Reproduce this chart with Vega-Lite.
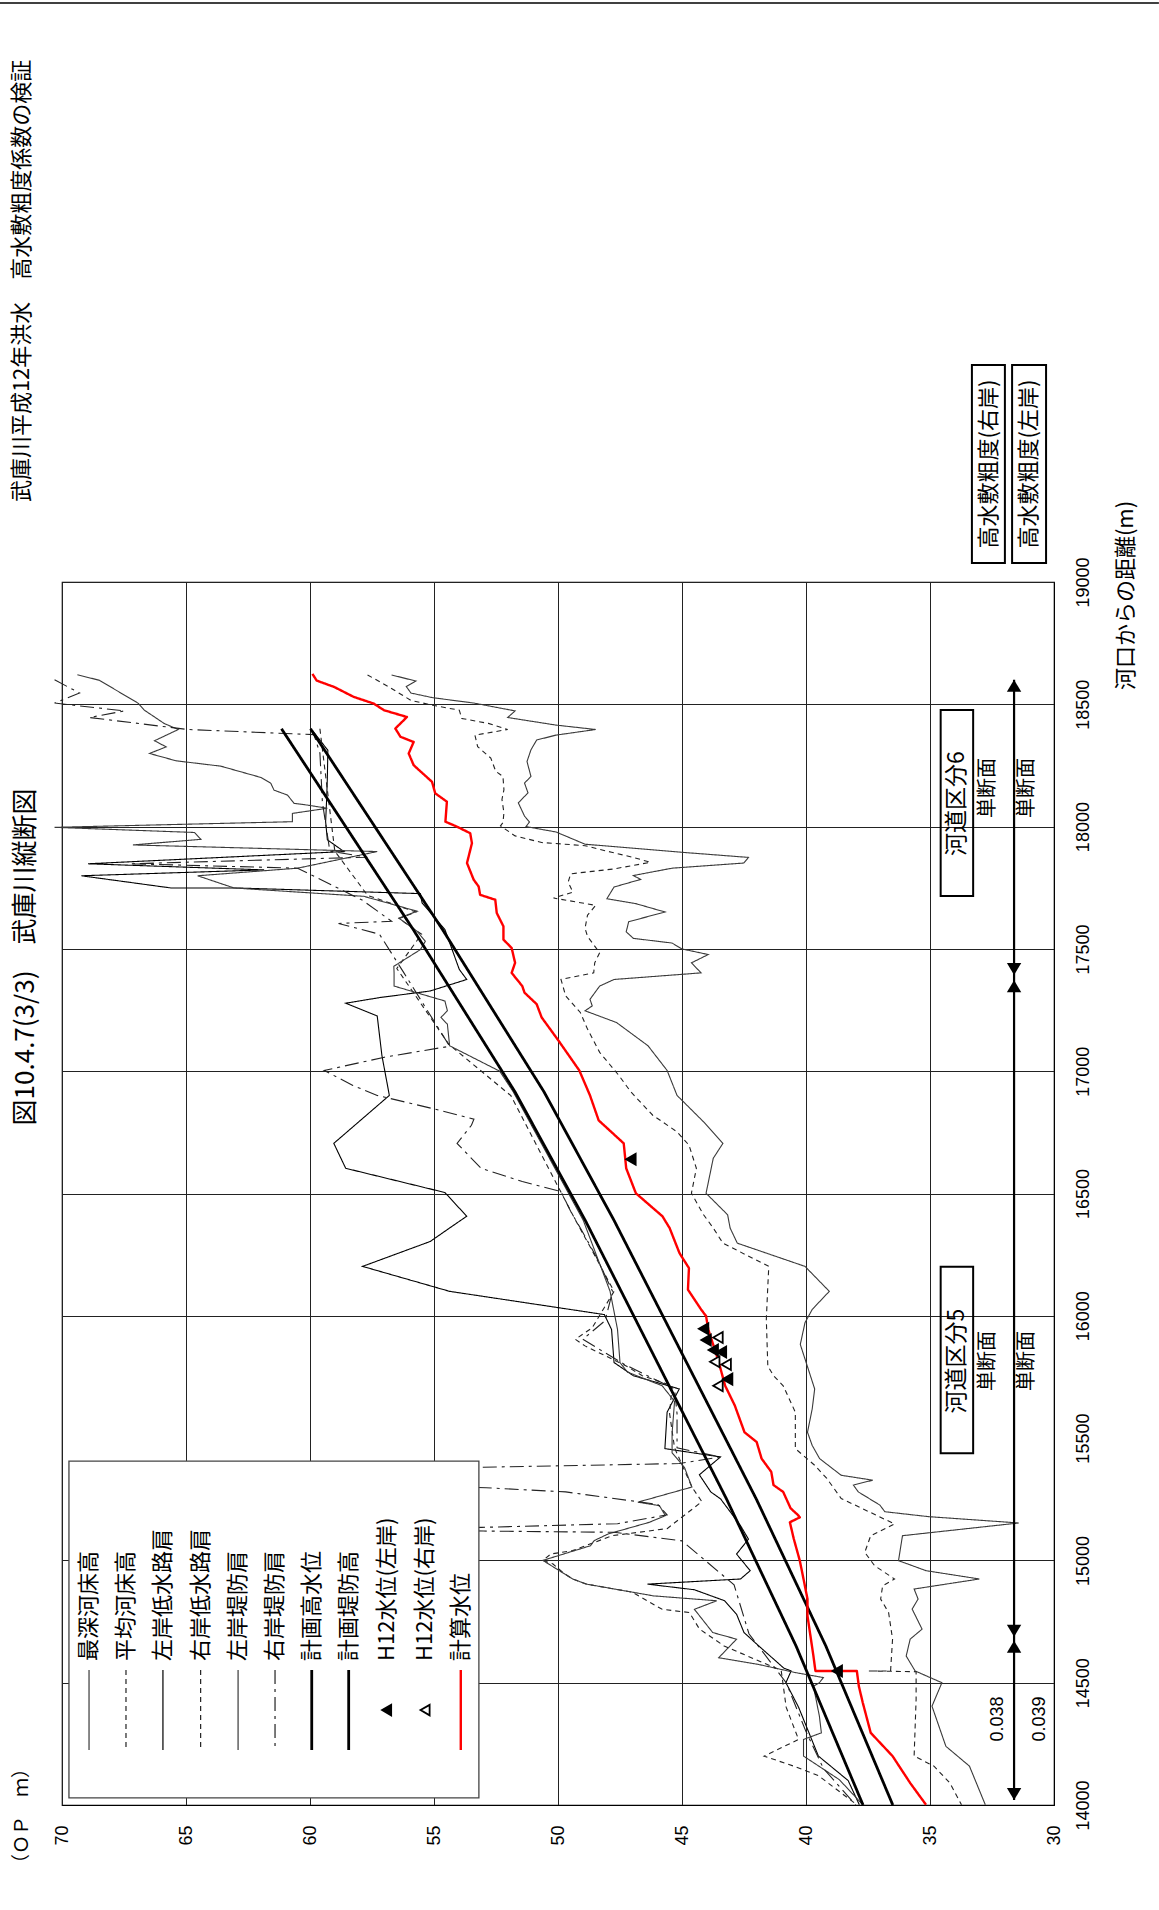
{
  "$schema": "https://vega.github.io/schema/vega-lite/v6.json",
  "width": 992,
  "height": 1223,
  "autosize": {"type": "none"},
  "padding": {"left": 62, "top": 582, "right": 105, "bottom": 105},
  "background": "white",
  "config": {
    "view": {"stroke": "#000", "strokeWidth": 1.2},
    "font": "Liberation Sans",
    "axis": {"labelFont": "Liberation Sans", "labelFontSize": 18, "labelColor": "#000", "gridColor": "#222", "gridWidth": 1, "gridOpacity": 1, "domainColor": "#000", "ticks": false, "tickSize": 0, "labelOverlap": false, "labelFlush": false, "labelPadding": 20, "format": "d"}
  },
  "datasets": {
    "lines": [
      {"s":"最深河床高","d":18620,"e":56.71},{"s":"最深河床高","d":18595,"e":55.73},{"s":"最深河床高","d":18573,"e":56.12},{"s":"最深河床高","d":18546,"e":55.93},{"s":"最深河床高","d":18527,"e":55.05},{"s":"最深河床高","d":18505,"e":53.39},{"s":"最深河床高","d":18473,"e":51.73},{"s":"最深河床高","d":18446,"e":52.03},{"s":"最深河床高","d":18415,"e":50.08},{"s":"最深河床高","d":18397,"e":48.48},{"s":"最深河床高","d":18374,"e":50.08},{"s":"最深河床高","d":18354,"e":50.86},{"s":"最深河床高","d":18314,"e":51.09},{"s":"最深河床高","d":18266,"e":51.25},{"s":"最深河床高","d":18205,"e":51.09},{"s":"最深河床高","d":18178,"e":51.35},{"s":"最深河床高","d":18138,"e":51.21},{"s":"最深河床高","d":18097,"e":51.6},{"s":"最深河床高","d":18043,"e":51.35},{"s":"最深河床高","d":18019,"e":51.15},{"s":"最深河床高","d":18000,"e":51.29},{"s":"最深河床高","d":17978,"e":50.08},{"s":"最深河床高","d":17928,"e":48.91},{"s":"最深河床高","d":17895,"e":45.01},{"s":"最深河床高","d":17874,"e":42.32},{"s":"最深河床高","d":17851,"e":42.51},{"s":"最深河床高","d":17830,"e":45.4},{"s":"最深河床高","d":17800,"e":46.96},{"s":"最深河床高","d":17784,"e":46.67},{"s":"最深河床高","d":17753,"e":47.74},{"s":"最深河床高","d":17705,"e":48.03},{"s":"最深河床高","d":17685,"e":46.86},{"s":"最深河床高","d":17651,"e":45.69},{"s":"最深河床高","d":17611,"e":47.15},{"s":"最深河床高","d":17570,"e":47.25},{"s":"最深河床高","d":17543,"e":46.96},{"s":"最深河床高","d":17524,"e":45.4},{"s":"最深河床高","d":17500,"e":45.01},{"s":"最深河床高","d":17477,"e":43.94},{"s":"最深河床高","d":17443,"e":44.62},{"s":"最深河床高","d":17402,"e":44.23},{"s":"最深河床高","d":17375,"e":47.74},{"s":"最深河床高","d":17348,"e":48.32},{"s":"最深河床高","d":17294,"e":48.71},{"s":"最深河床高","d":17267,"e":48.62},{"s":"最深河床高","d":17247,"e":48.91},{"s":"最深河床高","d":17199,"e":47.64},{"s":"最深河床高","d":17104,"e":46.37},{"s":"最深河床高","d":17003,"e":45.6},{"s":"最深河床高","d":16901,"e":45.2},{"s":"最深河床高","d":16793,"e":44.13},{"s":"最深河床高","d":16705,"e":43.35},{"s":"最深河床高","d":16644,"e":43.74},{"s":"最深河床高","d":16501,"e":44.03},{"s":"最深河床高","d":16413,"e":43.16},{"s":"最深河床高","d":16359,"e":43.06},{"s":"最深河床高","d":16297,"e":42.77},{"s":"最深河床高","d":16202,"e":40.04},{"s":"最深河床高","d":16100,"e":39.06},{"s":"最深河床高","d":16026,"e":39.75},{"s":"最深河床高","d":15972,"e":40.04},{"s":"最深河床高","d":15883,"e":40.23},{"s":"最深河床高","d":15701,"e":39.65},{"s":"最深河床高","d":15619,"e":39.75},{"s":"最深河床高","d":15524,"e":39.94},{"s":"最深河床高","d":15470,"e":39.75},{"s":"最深河床高","d":15416,"e":39.45},{"s":"最深河床高","d":15348,"e":38.58},{"s":"最深河床高","d":15328,"e":37.31},{"s":"最深河床高","d":15308,"e":38.09},{"s":"最深河床高","d":15280,"e":37.89},{"s":"最深河床高","d":15226,"e":37.02},{"s":"最深河床高","d":15199,"e":36.82},{"s":"最深河床高","d":15179,"e":35.07},{"s":"最深河床高","d":15153,"e":31.42},{"s":"最深河床高","d":15101,"e":36.11},{"s":"最深河床高","d":14999,"e":36.27},{"s":"最深河床高","d":14958,"e":35.16},{"s":"最深河床高","d":14924,"e":33.01},{"s":"最深河床高","d":14883,"e":35.64},{"s":"最深河床高","d":14842,"e":35.48},{"s":"最深河床高","d":14801,"e":35.72},{"s":"最深河床高","d":14719,"e":35.32},{"s":"最深河床高","d":14678,"e":35.8},{"s":"最深河床高","d":14609,"e":35.96},{"s":"最深河床高","d":14548,"e":35.6},{"s":"最深河床高","d":14500,"e":34.52},{"s":"最深河床高","d":14404,"e":34.92},{"s":"最深河床高","d":14240,"e":34.36},{"s":"最深河床高","d":14159,"e":33.41},{"s":"最深河床高","d":14001,"e":32.77},

      {"s":"平均河床高","d":18620,"e":57.68},{"s":"平均河床高","d":18570,"e":56.8},{"s":"平均河床高","d":18516,"e":55.93},{"s":"平均河床高","d":18496,"e":55.05},{"s":"平均河床高","d":18476,"e":53.98},{"s":"平均河床高","d":18442,"e":53.88},{"s":"平均河床高","d":18422,"e":52.81},{"s":"平均河床高","d":18397,"e":52.03},{"s":"平均河床高","d":18374,"e":53.35},{"s":"平均河床高","d":18327,"e":53.24},{"s":"平均河床高","d":18280,"e":52.71},{"s":"平均河床高","d":18226,"e":52.51},{"s":"平均河床高","d":18205,"e":52.22},{"s":"平均河床高","d":18151,"e":52.18},{"s":"平均河床高","d":18111,"e":52.26},{"s":"平均河床高","d":18057,"e":52.18},{"s":"平均河床高","d":18016,"e":52.22},{"s":"平均河床高","d":18003,"e":52.32},{"s":"平均河床高","d":17962,"e":51.73},{"s":"平均河床高","d":17935,"e":50.66},{"s":"平均河床高","d":17922,"e":48.91},{"s":"平均河床高","d":17895,"e":47.84},{"s":"平均河床高","d":17874,"e":46.96},{"s":"平均河床高","d":17854,"e":46.28},{"s":"平均河床高","d":17827,"e":47.74},{"s":"平均河床高","d":17807,"e":49.49},{"s":"平均河床高","d":17773,"e":49.59},{"s":"平均河床高","d":17732,"e":49.4},{"s":"平均河床高","d":17708,"e":50.18},{"s":"平均河床高","d":17678,"e":48.48},{"s":"平均河床高","d":17638,"e":48.81},{"s":"平均河床高","d":17584,"e":48.91},{"s":"平均河床高","d":17551,"e":48.81},{"s":"平均河床高","d":17484,"e":48.32},{"s":"平均河床高","d":17443,"e":48.52},{"s":"平均河床高","d":17402,"e":48.56},{"s":"平均河床高","d":17375,"e":49.88},{"s":"平均河床高","d":17308,"e":49.69},{"s":"平均河床高","d":17240,"e":49.1},{"s":"平均河床高","d":17172,"e":48.81},{"s":"平均河床高","d":17077,"e":48.32},{"s":"平均河床高","d":16982,"e":47.54},{"s":"平均河床高","d":16915,"e":47.06},{"s":"平均河床高","d":16820,"e":46.18},{"s":"平均河床高","d":16752,"e":45.2},{"s":"平均河床高","d":16698,"e":44.72},{"s":"平均河床高","d":16603,"e":44.42},{"s":"平均河床高","d":16501,"e":44.62},{"s":"平均河床高","d":16413,"e":44.13},{"s":"平均河床高","d":16359,"e":43.74},{"s":"平均河床高","d":16297,"e":43.35},{"s":"平均河床高","d":16202,"e":41.5},{"s":"平均河床高","d":16121,"e":41.54},{"s":"平均河床高","d":15985,"e":41.6},{"s":"平均河床高","d":15795,"e":41.54},{"s":"平均河床高","d":15755,"e":41.31},{"s":"平均河床高","d":15714,"e":40.92},{"s":"平均河床高","d":15606,"e":40.43},{"s":"平均河床高","d":15457,"e":40.43},{"s":"平均河床高","d":15389,"e":39.65},{"s":"平均河床高","d":15335,"e":39.16},{"s":"平均河床高","d":15253,"e":38.58},{"s":"平均河床高","d":15149,"e":36.43},{"s":"平均河床高","d":15101,"e":37.39},{"s":"平均河床高","d":15033,"e":37.63},{"s":"平均河床高","d":14978,"e":37.23},{"s":"平均河床高","d":14924,"e":36.43},{"s":"平均河床高","d":14896,"e":36.91},{"s":"平均河床高","d":14842,"e":36.99},{"s":"平均河床高","d":14787,"e":36.67},{"s":"平均河床高","d":14678,"e":36.51},{"s":"平均河床高","d":14548,"e":36.59},{"s":"平均河床高","d":14548,"e":37.47},{"s":"平均河床高","d":14545,"e":35.56},{"s":"平均河床高","d":14432,"e":35.56},{"s":"平均河床高","d":14200,"e":35.64},{"s":"平均河床高","d":14159,"e":34.84},{"s":"平均河床高","d":14090,"e":34.2},{"s":"平均河床高","d":14001,"e":33.73},

      {"s":"左岸低水路肩","d":18394,"e":59.91},{"s":"左岸低水路肩","d":18312,"e":59.28},{"s":"左岸低水路肩","d":18200,"e":59.3},{"s":"左岸低水路肩","d":18109,"e":59.33},{"s":"左岸低水路肩","d":18020,"e":59.37},{"s":"左岸低水路肩","d":17946,"e":59.3},{"s":"左岸低水路肩","d":17898,"e":58.63},{"s":"左岸低水路肩","d":17848,"e":68.95},{"s":"左岸低水路肩","d":17823,"e":61.85},{"s":"左岸低水路肩","d":17799,"e":69.22},{"s":"左岸低水路肩","d":17749,"e":65.6},{"s":"左岸低水路肩","d":17749,"e":62.92},{"s":"左岸低水路肩","d":17726,"e":55.55},{"s":"左岸低水路肩","d":17688,"e":55.48},{"s":"左岸低水路肩","d":17579,"e":54.56},{"s":"左岸低水路肩","d":17416,"e":53.98},{"s":"左岸低水路肩","d":17375,"e":53.68},{"s":"左岸低水路肩","d":17328,"e":55.15},{"s":"左岸低水路肩","d":17301,"e":57.19},{"s":"左岸低水路肩","d":17278,"e":58.56},{"s":"左岸低水路肩","d":17226,"e":57.29},{"s":"左岸低水路肩","d":17064,"e":57.1},{"s":"左岸低水路肩","d":16901,"e":56.8},{"s":"左岸低水路肩","d":16705,"e":59.04},{"s":"左岸低水路肩","d":16603,"e":58.56},{"s":"左岸低水路肩","d":16504,"e":54.56},{"s":"左岸低水路肩","d":16407,"e":53.68},{"s":"左岸低水路肩","d":16359,"e":54.37},{"s":"左岸低水路肩","d":16304,"e":55.15},{"s":"左岸低水路肩","d":16202,"e":57.88},{"s":"左岸低水路肩","d":16100,"e":54.37},{"s":"左岸低水路肩","d":16005,"e":48.13},{"s":"左岸低水路肩","d":15944,"e":47.84},{"s":"左岸低水路肩","d":15809,"e":47.74},{"s":"左岸低水路肩","d":15755,"e":46.96},{"s":"左岸低水路肩","d":15701,"e":45.11},{"s":"左岸低水路肩","d":15606,"e":45.6},{"s":"左岸低水路肩","d":15457,"e":45.69},{"s":"左岸低水路肩","d":15423,"e":43.45},{"s":"左岸低水路肩","d":15350,"e":44.3},{"s":"左岸低水路肩","d":15280,"e":43.84},{"s":"左岸低水路肩","d":15251,"e":43.44},{"s":"左岸低水路肩","d":15142,"e":42.64},{"s":"左岸低水路肩","d":15087,"e":42.32},{"s":"左岸低水路肩","d":15026,"e":42.8},{"s":"左岸低水路肩","d":14958,"e":42.25},{"s":"左岸低水路肩","d":14924,"e":42.64},{"s":"左岸低水路肩","d":14903,"e":46.39},{"s":"左岸低水路肩","d":14880,"e":44.5},{"s":"左岸低水路肩","d":14835,"e":43.28},{"s":"左岸低水路肩","d":14780,"e":42.8},{"s":"左岸低水路肩","d":14705,"e":42.5},{"s":"左岸低水路肩","d":14650,"e":41.9},{"s":"左岸低水路肩","d":14560,"e":40.9},{"s":"左岸低水路肩","d":14548,"e":40.6},{"s":"左岸低水路肩","d":14500,"e":40.81},{"s":"左岸低水路肩","d":14400,"e":40.3},{"s":"左岸低水路肩","d":14300,"e":39.9},{"s":"左岸低水路肩","d":14200,"e":39.5},{"s":"左岸低水路肩","d":14100,"e":38.3},{"s":"左岸低水路肩","d":14001,"e":37.85},

      {"s":"右岸低水路肩","d":18400,"e":59.6},{"s":"右岸低水路肩","d":17900,"e":59.0},{"s":"右岸低水路肩","d":17719,"e":57.68},{"s":"右岸低水路肩","d":17651,"e":55.73},{"s":"右岸低水路肩","d":17624,"e":56.41},{"s":"右岸低水路肩","d":17560,"e":55.5},{"s":"右岸低水路肩","d":17420,"e":56.5},{"s":"右岸低水路肩","d":17110,"e":54.4},{"s":"右岸低水路肩","d":16900,"e":51.9},{"s":"右岸低水路肩","d":16392,"e":49.3},{"s":"右岸低水路肩","d":16283,"e":48.71},{"s":"右岸低水路肩","d":16100,"e":47.74},{"s":"右岸低水路肩","d":15951,"e":48.62},{"s":"右岸低水路肩","d":15904,"e":49.3},{"s":"右岸低水路肩","d":15877,"e":48.91},{"s":"右岸低水路肩","d":15795,"e":47.25},{"s":"右岸低水路肩","d":15755,"e":46.6},{"s":"右岸低水路肩","d":15714,"e":45.4},{"s":"右岸低水路肩","d":15600,"e":45.5},{"s":"右岸低水路肩","d":15460,"e":45.3},{"s":"右岸低水路肩","d":15300,"e":44.6},{"s":"右岸低水路肩","d":15240,"e":44.2},{"s":"右岸低水路肩","d":15130,"e":45.6},{"s":"右岸低水路肩","d":15101,"e":47.82},{"s":"右岸低水路肩","d":15040,"e":49.41},{"s":"右岸低水路肩","d":15026,"e":50.29},{"s":"右岸低水路肩","d":15000,"e":50.61},{"s":"右岸低水路肩","d":14985,"e":50.2},{"s":"右岸低水路肩","d":14950,"e":49.8},{"s":"右岸低水路肩","d":14924,"e":49.41},{"s":"右岸低水路肩","d":14903,"e":48.85},{"s":"右岸低水路肩","d":14870,"e":47.0},{"s":"右岸低水路肩","d":14800,"e":45.8},{"s":"右岸低水路肩","d":14787,"e":44.7},{"s":"右岸低水路肩","d":14720,"e":44.3},{"s":"右岸低水路肩","d":14650,"e":43.3},{"s":"右岸低水路肩","d":14550,"e":41.0},{"s":"右岸低水路肩","d":14400,"e":40.8},{"s":"右岸低水路肩","d":14268,"e":40.3},{"s":"右岸低水路肩","d":14200,"e":41.69},{"s":"右岸低水路肩","d":14159,"e":40.5},{"s":"右岸低水路肩","d":14120,"e":39.5},{"s":"右岸低水路肩","d":14001,"e":37.95},

      {"s":"左岸堤防肩","d":18621,"e":69.38},{"s":"左岸堤防肩","d":18598,"e":68.49},{"s":"左岸堤防肩","d":18505,"e":66.94},{"s":"左岸堤防肩","d":18476,"e":66.68},{"s":"左岸堤防肩","d":18421,"e":65.87},{"s":"左岸堤防肩","d":18397,"e":65.31},{"s":"左岸堤防肩","d":18351,"e":66.27},{"s":"左岸堤防肩","d":18326,"e":65.8},{"s":"左岸堤防肩","d":18299,"e":66.47},{"s":"左岸堤防肩","d":18269,"e":65.4},{"s":"左岸堤防肩","d":18247,"e":63.59},{"s":"左岸堤防肩","d":18224,"e":62.79},{"s":"左岸堤防肩","d":18201,"e":61.98},{"s":"左岸堤防肩","d":18177,"e":61.58},{"s":"左岸堤防肩","d":18149,"e":61.45},{"s":"左岸堤防肩","d":18129,"e":60.91},{"s":"左岸堤防肩","d":18095,"e":60.64},{"s":"左岸堤防肩","d":18088,"e":60.11},{"s":"左岸堤防肩","d":18075,"e":59.3},{"s":"左岸堤防肩","d":18054,"e":60.71},{"s":"左岸堤防肩","d":18020,"e":60.71},{"s":"左岸堤防肩","d":17997,"e":70.3},{"s":"左岸堤防肩","d":17976,"e":64.66},{"s":"左岸堤防肩","d":17948,"e":64.4},{"s":"左岸堤防肩","d":17925,"e":67.14},{"s":"左岸堤防肩","d":17898,"e":57.29},{"s":"左岸堤防肩","d":17830,"e":60.5},{"s":"左岸堤防肩","d":17799,"e":64.53},{"s":"左岸堤防肩","d":17749,"e":63.06},{"s":"左岸堤防肩","d":17715,"e":57.83},{"s":"左岸堤防肩","d":17654,"e":55.68},{"s":"左岸堤防肩","d":17626,"e":56.42},{"s":"左岸堤防肩","d":17572,"e":55.68},{"s":"左岸堤防肩","d":17531,"e":55.35},{"s":"左岸堤防肩","d":17497,"e":55.55},{"s":"左岸堤防肩","d":17429,"e":56.62},{"s":"左岸堤防肩","d":17402,"e":56.61},{"s":"左岸堤防肩","d":17348,"e":56.61},{"s":"左岸堤防肩","d":17287,"e":54.56},{"s":"左岸堤防肩","d":17247,"e":54.46},{"s":"左岸堤防肩","d":17220,"e":54.72},{"s":"左岸堤防肩","d":17192,"e":54.46},{"s":"左岸堤防肩","d":17104,"e":54.37},{"s":"左岸堤防肩","d":17000,"e":52.35},{"s":"左岸堤防肩","d":16915,"e":51.8},{"s":"左岸堤防肩","d":16390,"e":48.98},{"s":"左岸堤防肩","d":16100,"e":47.9},{"s":"左岸堤防肩","d":15944,"e":47.6},{"s":"左岸堤防肩","d":15809,"e":47.5},{"s":"左岸堤防肩","d":15770,"e":47.2},{"s":"左岸堤防肩","d":15714,"e":45.8},{"s":"左岸堤防肩","d":15650,"e":45.3},{"s":"左岸堤防肩","d":15520,"e":45.4},{"s":"左岸堤防肩","d":15440,"e":45.4},{"s":"左岸堤防肩","d":15380,"e":44.9},{"s":"左岸堤防肩","d":15300,"e":44.6},{"s":"左岸堤防肩","d":15238,"e":46.78},{"s":"左岸堤防肩","d":15224,"e":45.91},{"s":"左岸堤防肩","d":15183,"e":45.67},{"s":"左岸堤防肩","d":15156,"e":46.31},{"s":"左岸堤防肩","d":15108,"e":47.98},{"s":"左岸堤防肩","d":15081,"e":48.54},{"s":"左岸堤防肩","d":15060,"e":48.69},{"s":"左岸堤防肩","d":15000,"e":50.61},{"s":"左岸堤防肩","d":14924,"e":49.41},{"s":"左岸堤防肩","d":14903,"e":48.85},{"s":"左岸堤防肩","d":14889,"e":48.06},{"s":"左岸堤防肩","d":14855,"e":46.15},{"s":"左岸堤防肩","d":14835,"e":43.6},{"s":"左岸堤防肩","d":14800,"e":44.5},{"s":"左岸堤防肩","d":14705,"e":43.76},{"s":"左岸堤防肩","d":14678,"e":42.8},{"s":"左岸堤防肩","d":14602,"e":43.52},{"s":"左岸堤防肩","d":14575,"e":41.93},{"s":"左岸堤防肩","d":14541,"e":40.41},{"s":"左岸堤防肩","d":14521,"e":39.3},{"s":"左岸堤防肩","d":14500,"e":39.46},{"s":"左岸堤防肩","d":14486,"e":39.7},{"s":"左岸堤防肩","d":14363,"e":39.46},{"s":"左岸堤防肩","d":14295,"e":39.38},{"s":"左岸堤防肩","d":14268,"e":40.1},{"s":"左岸堤防肩","d":14200,"e":40.1},{"s":"左岸堤防肩","d":14104,"e":38.66},{"s":"左岸堤防肩","d":14001,"e":37.71},

      {"s":"右岸堤防肩","d":18600,"e":70.3},{"s":"右岸堤防肩","d":18546,"e":69.29},{"s":"右岸堤防肩","d":18505,"e":70.3},{"s":"右岸堤防肩","d":18473,"e":67.48},{"s":"右岸堤防肩","d":18446,"e":68.89},{"s":"右岸堤防肩","d":18397,"e":64.93},{"s":"右岸堤防肩","d":18376,"e":59.84},{"s":"右岸堤防肩","d":18300,"e":59.6},{"s":"右岸堤防肩","d":18100,"e":59.5},{"s":"右岸堤防肩","d":17900,"e":59.2},{"s":"右岸堤防肩","d":17875,"e":57.69},{"s":"右岸堤防肩","d":17848,"e":67.28},{"s":"右岸堤防肩","d":17830,"e":60.5},{"s":"右岸堤防肩","d":17700,"e":57.9},{"s":"右岸堤防肩","d":17613,"e":56.71},{"s":"右岸堤防肩","d":17604,"e":58.85},{"s":"右岸堤防肩","d":17560,"e":57.2},{"s":"右岸堤防肩","d":17400,"e":56.2},{"s":"右岸堤防肩","d":17102,"e":54.37},{"s":"右岸堤防肩","d":17057,"e":57.0},{"s":"右岸堤防肩","d":17003,"e":59.43},{"s":"右岸堤防肩","d":16942,"e":58.27},{"s":"右岸堤防肩","d":16901,"e":57.29},{"s":"右岸堤防肩","d":16847,"e":55.05},{"s":"右岸堤防肩","d":16804,"e":53.39},{"s":"右岸堤防肩","d":16779,"e":53.49},{"s":"右岸堤防肩","d":16705,"e":54.07},{"s":"右岸堤防肩","d":16603,"e":53.1},{"s":"右岸堤防肩","d":16549,"e":51.44},{"s":"右岸堤防肩","d":16508,"e":49.88},{"s":"右岸堤防肩","d":16427,"e":49.49},{"s":"右岸堤防肩","d":16359,"e":49.1},{"s":"右岸堤防肩","d":16250,"e":48.5},{"s":"右岸堤防肩","d":16100,"e":47.8},{"s":"右岸堤防肩","d":15980,"e":48.1},{"s":"右岸堤防肩","d":15904,"e":49.0},{"s":"右岸堤防肩","d":15800,"e":47.3},{"s":"右岸堤防肩","d":15701,"e":45.3},{"s":"右岸堤防肩","d":15600,"e":45.2},{"s":"右岸堤防肩","d":15460,"e":45.2},{"s":"右岸堤防肩","d":15423,"e":43.45},{"s":"右岸堤防肩","d":15396,"e":45.11},{"s":"右岸堤防肩","d":15382,"e":52.51},{"s":"右岸堤防肩","d":15370,"e":58},{"s":"右岸堤防肩","d":15310,"e":58},{"s":"右岸堤防肩","d":15297,"e":52.9},{"s":"右岸堤防肩","d":15280,"e":49.69},{"s":"右岸堤防肩","d":15229,"e":45.98},{"s":"右岸堤防肩","d":15186,"e":45.6},{"s":"右岸堤防肩","d":15150,"e":47.6},{"s":"右岸堤防肩","d":15135,"e":53.07},{"s":"右岸堤防肩","d":15128,"e":57},{"s":"右岸堤防肩","d":15120,"e":53.0},{"s":"右岸堤防肩","d":15115,"e":47.74},{"s":"右岸堤防肩","d":15080,"e":45.0},{"s":"右岸堤防肩","d":14900,"e":42.9},{"s":"右岸堤防肩","d":14700,"e":42.3},{"s":"右岸堤防肩","d":14500,"e":40.8},{"s":"右岸堤防肩","d":14300,"e":40.0},{"s":"右岸堤防肩","d":14150,"e":39.3},{"s":"右岸堤防肩","d":14001,"e":38.0},

      {"s":"計画堤防高","d":18400,"e":61.15},{"s":"計画堤防高","d":17578,"e":55.83},{"s":"計画堤防高","d":16915,"e":51.73},{"s":"計画堤防高","d":16390,"e":48.9},{"s":"計画堤防高","d":15250,"e":43.2},{"s":"計画堤防高","d":14650,"e":40.4},{"s":"計画堤防高","d":14000,"e":37.7},

      {"s":"計画高水位","d":18400,"e":59.98},{"s":"計画高水位","d":17578,"e":54.65},{"s":"計画高水位","d":16915,"e":50.56},{"s":"計画高水位","d":16390,"e":47.74},{"s":"計画高水位","d":15250,"e":42.0},{"s":"計画高水位","d":14650,"e":39.2},{"s":"計画高水位","d":14000,"e":36.5},

      {"s":"計算水位","d":18624,"e":59.9},{"s":"計算水位","d":18597,"e":59.73},{"s":"計算水位","d":18571,"e":59.03},{"s":"計算水位","d":18530,"e":58.23},{"s":"計算水位","d":18503,"e":57.43},{"s":"計算水位","d":18476,"e":57.02},{"s":"計算水位","d":18448,"e":56.09},{"s":"計算水位","d":18401,"e":56.56},{"s":"計算水位","d":18367,"e":56.35},{"s":"計算水位","d":18346,"e":55.82},{"s":"計算水位","d":18299,"e":56.02},{"s":"計算水位","d":18251,"e":55.82},{"s":"計算水位","d":18183,"e":55.08},{"s":"計算水位","d":18136,"e":54.95},{"s":"計算水位","d":18102,"e":54.48},{"s":"計算水位","d":18020,"e":54.54},{"s":"計算水位","d":18000,"e":54.08},{"s":"計算水位","d":17973,"e":53.54},{"s":"計算水位","d":17932,"e":53.47},{"s":"計算水位","d":17851,"e":53.67},{"s":"計算水位","d":17783,"e":53.4},{"s":"計算水位","d":17755,"e":53.2},{"s":"計算水位","d":17721,"e":53.14},{"s":"計算水位","d":17701,"e":52.53},{"s":"計算水位","d":17647,"e":52.47},{"s":"計算水位","d":17592,"e":52.2},{"s":"計算水位","d":17538,"e":52.2},{"s":"計算水位","d":17504,"e":51.87},{"s":"計算水位","d":17443,"e":51.73},{"s":"計算水位","d":17402,"e":51.87},{"s":"計算水位","d":17348,"e":51.44},{"s":"計算水位","d":17321,"e":51.35},{"s":"計算水位","d":17274,"e":50.86},{"s":"計算水位","d":17220,"e":50.66},{"s":"計算水位","d":17125,"e":49.98},{"s":"計算水位","d":17003,"e":49.14},{"s":"計算水位","d":16901,"e":48.71},{"s":"計算水位","d":16799,"e":48.36},{"s":"計算水位","d":16705,"e":47.35},{"s":"計算水位","d":16603,"e":47.25},{"s":"計算水位","d":16501,"e":46.86},{"s":"計算水位","d":16407,"e":45.79},{"s":"計算水位","d":16359,"e":45.5},{"s":"計算水位","d":16256,"e":45.1},{"s":"計算水位","d":16195,"e":44.72},{"s":"計算水位","d":16107,"e":44.76},{"s":"計算水位","d":16026,"e":44.23},{"s":"計算水位","d":15999,"e":44.03},{"s":"計算水位","d":15944,"e":43.94},{"s":"計算水位","d":15822,"e":43.55},{"s":"計算水位","d":15714,"e":43.26},{"s":"計算水位","d":15633,"e":42.87},{"s":"計算水位","d":15524,"e":42.48},{"s":"計算水位","d":15484,"e":41.99},{"s":"計算水位","d":15416,"e":41.79},{"s":"計算水位","d":15362,"e":41.4},{"s":"計算水位","d":15308,"e":41.31},{"s":"計算水位","d":15280,"e":40.92},{"s":"計算水位","d":15213,"e":40.62},{"s":"計算水位","d":15186,"e":40.33},{"s":"計算水位","d":15176,"e":40.25},{"s":"計算水位","d":15156,"e":40.65},{"s":"計算水位","d":15087,"e":40.49},{"s":"計算水位","d":14999,"e":40.25},{"s":"計算水位","d":14924,"e":40.1},{"s":"計算水位","d":14842,"e":39.94},{"s":"計算水位","d":14773,"e":39.94},{"s":"計算水位","d":14609,"e":39.7},{"s":"計算水位","d":14548,"e":39.62},{"s":"計算水位","d":14548,"e":37.95},{"s":"計算水位","d":14486,"e":37.87},{"s":"計算水位","d":14418,"e":37.71},{"s":"計算水位","d":14295,"e":37.39},{"s":"計算水位","d":14200,"e":36.51},{"s":"計算水位","d":14090,"e":35.8},{"s":"計算水位","d":14001,"e":35.16}
    ],
    "obs": [
      {"s":"H12水位(左岸)","d":16640,"e":47.06},{"s":"H12水位(左岸)","d":15947,"e":44.13},{"s":"H12水位(左岸)","d":15901,"e":44.03},{"s":"H12水位(左岸)","d":15860,"e":43.74},{"s":"H12水位(左岸)","d":15852,"e":43.41},{"s":"H12水位(左岸)","d":15741,"e":43.16},{"s":"H12水位(左岸)","d":14548,"e":38.74},
      {"s":"H12水位(右岸)","d":15911,"e":43.55},{"s":"H12水位(右岸)","d":15812,"e":43.68},{"s":"H12水位(右岸)","d":15801,"e":43.22},{"s":"H12水位(右岸)","d":15714,"e":43.55}
    ],
    "legendLines": [
      {"s":"最深河床高","e":68.91},{"s":"平均河床高","e":67.42},{"s":"左岸低水路肩","e":65.93},{"s":"右岸低水路肩","e":64.41},{"s":"左岸堤防肩","e":62.9},{"s":"右岸堤防肩","e":61.41},{"s":"計画高水位","e":59.93},{"s":"計画堤防高","e":58.44},{"s":"計算水位","e":53.92}
    ],
    "legendPoints": [
      {"s":"H12水位(左岸)","e":56.91},{"s":"H12水位(右岸)","e":55.36}
    ],
    "legendText": [
      {"s":"最深河床高","e":68.91},{"s":"平均河床高","e":67.42},{"s":"左岸低水路肩","e":65.93},{"s":"右岸低水路肩","e":64.41},{"s":"左岸堤防肩","e":62.9},{"s":"右岸堤防肩","e":61.41},{"s":"計画高水位","e":59.93},{"s":"計画堤防高","e":58.44},{"s":"H12水位(左岸)","e":56.91},{"s":"H12水位(右岸)","e":55.36},{"s":"計算水位","e":53.92}
    ],
    "arrowHeads": [
      {"d":18600,"dir":"up"},{"d":17393,"dir":"down"},{"d":17372,"dir":"up"},{"d":14688,"dir":"down"},{"d":14672,"dir":"up"},{"d":14020,"dir":"down"}
    ],
    "boxes": [
      {"e1":34.57,"e2":33.26,"d1":18477,"d2":17716},
      {"e1":34.57,"e2":33.26,"d1":16201,"d2":15438},
      {"e1":33.31,"e2":31.98,"d1":19887,"d2":19078},
      {"e1":31.69,"e2":30.32,"d1":19887,"d2":19078}
    ]
  },
  "layer": [
    {
      "data": {"name": "lines"},
      "transform": [{"filter": {"field": "s", "oneOf": ["最深河床高","平均河床高","左岸低水路肩","右岸低水路肩","左岸堤防肩","右岸堤防肩"]}}],
      "mark": {"type": "line", "strokeWidth": 1.1, "strokeJoin": "miter", "strokeCap": "butt"},
      "encoding": {
        "x": {"field": "e", "type": "quantitative", "title": null,
              "scale": {"domain": [30, 70], "reverse": true, "nice": false, "zero": false},
              "axis": {"values": [30, 35, 40, 45, 50, 55, 60, 65, 70], "grid": true, "labelAngle": 270, "labelAlign": "right", "labelBaseline": "middle", "title": null}},
        "y": {"field": "d", "type": "quantitative", "title": null,
              "scale": {"domain": [14000, 19000], "nice": false, "zero": false},
              "axis": {"orient": "right", "values": [14000, 14500, 15000, 15500, 16000, 16500, 17000, 17500, 18000, 18500, 19000], "grid": true,
                       "gridOpacity": {"condition": {"test": "datum.value == 15500", "value": 0}, "value": 1},
                       "labelAngle": 270, "labelAlign": "center", "labelBaseline": "top", "title": null}},
        "color": {"field": "s", "type": "nominal", "legend": null,
                  "scale": {"domain": ["最深河床高","平均河床高","左岸低水路肩","右岸低水路肩","左岸堤防肩","右岸堤防肩","計画高水位","計画堤防高","計算水位"],
                            "range": ["#3a3a3a","#222222","#000000","#222222","#3a3a3a","#222222","#000000","#000000","#ff0000"]}},
        "strokeDash": {"field": "s", "type": "nominal", "legend": null,
                  "scale": {"domain": ["最深河床高","平均河床高","左岸低水路肩","右岸低水路肩","左岸堤防肩","右岸堤防肩","計画高水位","計画堤防高","計算水位"],
                            "range": [[1,0],[5,4],[1,0],[5,4],[1,0],[14,5,3,5],[1,0],[1,0],[1,0]]}},
        "order": {"value": null}
      }
    },
    {
      "data": {"name": "lines"},
      "transform": [{"filter": {"field": "s", "oneOf": ["計画高水位","計画堤防高"]}}],
      "mark": {"type": "line", "strokeWidth": 2.8, "strokeJoin": "miter", "strokeCap": "butt"},
      "encoding": {
        "x": {"field": "e", "type": "quantitative", "title": null},
        "y": {"field": "d", "type": "quantitative", "title": null},
        "color": {"field": "s", "type": "nominal", "legend": null},
        "strokeDash": {"field": "s", "type": "nominal", "legend": null},
        "order": {"value": null}
      }
    },
    {
      "data": {"name": "lines"},
      "transform": [{"filter": {"field": "s", "oneOf": ["計算水位"]}}],
      "mark": {"type": "line", "strokeWidth": 2.4, "strokeJoin": "round"},
      "encoding": {
        "x": {"field": "e", "type": "quantitative", "title": null},
        "y": {"field": "d", "type": "quantitative", "title": null},
        "color": {"field": "s", "type": "nominal", "legend": null},
        "strokeDash": {"field": "s", "type": "nominal", "legend": null},
        "order": {"value": null}
      }
    },
    {
      "data": {"name": "obs"},
      "mark": {"type": "point", "shape": "triangle-left", "size": 120, "stroke": "#000", "strokeWidth": 1.8, "opacity": 1, "fillOpacity": 1},
      "encoding": {
        "x": {"field": "e", "type": "quantitative", "title": null},
        "y": {"field": "d", "type": "quantitative", "title": null},
        "fill": {"field": "s", "type": "nominal", "legend": null, "scale": {"domain": ["H12水位(左岸)","H12水位(右岸)"], "range": ["#000000","#ffffff"]}}
      }
    },
    {
      "data": {"values": [{}]},
      "mark": {"type": "rule", "strokeWidth": 2.2, "color": "#000"},
      "encoding": {"x": {"datum": 31.61}, "y": {"datum": 14020}, "y2": {"datum": 18600}}
    },
    {
      "data": {"name": "arrowHeads"},
      "mark": {"type": "point", "filled": true, "color": "#000", "opacity": 1, "size": 576},
      "encoding": {
        "x": {"datum": 31.61},
        "y": {"field": "d", "type": "quantitative", "title": null},
        "shape": {"field": "dir", "type": "nominal", "legend": null, "scale": {"domain": ["up","down"], "range": ["M0,0L-0.6,1L0.6,1Z","M0,0L-0.6,-1L0.6,-1Z"]}}
      }
    },
    {
      "data": {"name": "boxes"},
      "mark": {"type": "rect", "fill": null, "fillOpacity": 0, "stroke": "#000", "strokeWidth": 2},
      "encoding": {
        "x": {"field": "e1", "type": "quantitative", "title": null},
        "x2": {"field": "e2"},
        "y": {"field": "d1", "type": "quantitative", "title": null},
        "y2": {"field": "d2"}
      }
    },
    {
      "data": {"values": [{"t": "河道区分6", "e": 33.91, "d": 18094}, {"t": "河道区分5", "e": 33.91, "d": 15815}]},
      "mark": {"type": "text", "angle": 270, "align": "center", "baseline": "middle", "font": "Noto Sans CJK JP", "fontSize": 23, "color": "#000"},
      "encoding": {"x": {"field": "e", "type": "quantitative", "title": null}, "y": {"field": "d", "type": "quantitative", "title": null}, "text": {"field": "t"}}
    },
    {
      "data": {"values": [{"t": "単断面", "e": 32.68, "d": 18158}, {"t": "単断面", "e": 31.07, "d": 18158}, {"t": "単断面", "e": 32.68, "d": 15815}, {"t": "単断面", "e": 31.07, "d": 15815}]},
      "mark": {"type": "text", "angle": 270, "align": "center", "baseline": "middle", "font": "Noto Sans CJK JP", "fontSize": 20, "color": "#000"},
      "encoding": {"x": {"field": "e", "type": "quantitative", "title": null}, "y": {"field": "d", "type": "quantitative", "title": null}, "text": {"field": "t"}}
    },
    {
      "data": {"values": [{"t": "0.038", "e": 32.26, "d": 14352}, {"t": "0.039", "e": 30.58, "d": 14352}]},
      "mark": {"type": "text", "angle": 270, "align": "center", "baseline": "middle", "font": "Liberation Sans", "fontSize": 18, "color": "#000"},
      "encoding": {"x": {"field": "e", "type": "quantitative", "title": null}, "y": {"field": "d", "type": "quantitative", "title": null}, "text": {"field": "t"}}
    },
    {
      "data": {"values": [{"t": "高水敷粗度(右岸)", "e": 32.64, "d": 19482}, {"t": "高水敷粗度(左岸)", "e": 31.01, "d": 19482}]},
      "mark": {"type": "text", "angle": 270, "align": "center", "baseline": "middle", "font": "Noto Sans CJK JP", "fontSize": 22, "color": "#000"},
      "encoding": {"x": {"field": "e", "type": "quantitative", "title": null}, "y": {"field": "d", "type": "quantitative", "title": null}, "text": {"field": "t"}}
    },
    {
      "data": {"values": [{"t": "図10.4.7(3/3)　武庫川縦断図", "e": 71.47, "d": 17467}]},
      "mark": {"type": "text", "angle": 270, "align": "center", "baseline": "middle", "font": "Noto Sans CJK JP", "fontSize": 26, "color": "#000"},
      "encoding": {"x": {"field": "e", "type": "quantitative", "title": null}, "y": {"field": "d", "type": "quantitative", "title": null}, "text": {"field": "t"}}
    },
    {
      "data": {"values": [{"t": "武庫川平成12年洪水　高水敷粗度係数の検証", "e": 71.61, "d": 20231}]},
      "mark": {"type": "text", "angle": 270, "align": "center", "baseline": "middle", "font": "Noto Sans CJK JP", "fontSize": 22, "color": "#000"},
      "encoding": {"x": {"field": "e", "type": "quantitative", "title": null}, "y": {"field": "d", "type": "quantitative", "title": null}, "text": {"field": "t"}}
    },
    {
      "data": {"values": [{"t": "（ＯＰ　ｍ）", "e": 71.61, "d": 13722}]},
      "mark": {"type": "text", "angle": 270, "align": "left", "baseline": "middle", "font": "Noto Sans CJK JP", "fontSize": 19, "color": "#000"},
      "encoding": {"x": {"field": "e", "type": "quantitative", "title": null}, "y": {"field": "d", "type": "quantitative", "title": null}, "text": {"field": "t"}}
    },
    {
      "data": {"values": [{"t": "河口からの距離(m)", "e": 27.1, "d": 18558}]},
      "mark": {"type": "text", "angle": 270, "align": "left", "baseline": "middle", "font": "Noto Sans CJK JP", "fontSize": 22, "color": "#000"},
      "encoding": {"x": {"field": "e", "type": "quantitative", "title": null}, "y": {"field": "d", "type": "quantitative", "title": null}, "text": {"field": "t"}}
    },
    {
      "data": {"values": [{}]},
      "mark": {"type": "rule", "strokeWidth": 1.5, "color": "#000"},
      "encoding": {"x": {"datum": 72.5}, "x2": {"datum": 25.77}, "y": {"datum": 21367}}
    },
    {
      "data": {"values": [{}]},
      "mark": {"type": "rect", "fill": "#ffffff", "stroke": "#444444", "strokeWidth": 1.3},
      "encoding": {"x": {"datum": 69.72}, "x2": {"datum": 53.19}, "y": {"datum": 15406}, "y2": {"datum": 14029}}
    },
    {
      "data": {"name": "legendLines"},
      "transform": [{"filter": {"field": "s", "oneOf": ["最深河床高","平均河床高","左岸低水路肩","右岸低水路肩","左岸堤防肩","右岸堤防肩"]}}],
      "mark": {"type": "rule", "strokeWidth": 1.2},
      "encoding": {
        "x": {"field": "e", "type": "quantitative", "title": null},
        "y": {"datum": 14552},
        "y2": {"datum": 14225},
        "color": {"field": "s", "type": "nominal", "legend": null},
        "strokeDash": {"field": "s", "type": "nominal", "legend": null}
      }
    },
    {
      "data": {"name": "legendLines"},
      "transform": [{"filter": {"field": "s", "oneOf": ["計画高水位","計画堤防高"]}}],
      "mark": {"type": "rule", "strokeWidth": 2.8},
      "encoding": {
        "x": {"field": "e", "type": "quantitative", "title": null},
        "y": {"datum": 14552},
        "y2": {"datum": 14225},
        "color": {"field": "s", "type": "nominal", "legend": null},
        "strokeDash": {"field": "s", "type": "nominal", "legend": null}
      }
    },
    {
      "data": {"name": "legendLines"},
      "transform": [{"filter": {"field": "s", "oneOf": ["計算水位"]}}],
      "mark": {"type": "rule", "strokeWidth": 2.4},
      "encoding": {
        "x": {"field": "e", "type": "quantitative", "title": null},
        "y": {"datum": 14552},
        "y2": {"datum": 14225},
        "color": {"field": "s", "type": "nominal", "legend": null},
        "strokeDash": {"field": "s", "type": "nominal", "legend": null}
      }
    },
    {
      "data": {"name": "legendPoints"},
      "mark": {"type": "point", "shape": "triangle-left", "size": 110, "stroke": "#000", "strokeWidth": 1.8, "opacity": 1, "fillOpacity": 1},
      "encoding": {
        "x": {"field": "e", "type": "quantitative", "title": null},
        "y": {"datum": 14388},
        "fill": {"field": "s", "type": "nominal", "legend": null}
      }
    },
    {
      "data": {"name": "legendText"},
      "mark": {"type": "text", "angle": 270, "align": "left", "baseline": "middle", "font": "Noto Sans CJK JP", "fontSize": 22, "color": "#000"},
      "encoding": {
        "x": {"field": "e", "type": "quantitative", "title": null},
        "y": {"datum": 14589},
        "text": {"field": "s"}
      }
    }
  ]
}
